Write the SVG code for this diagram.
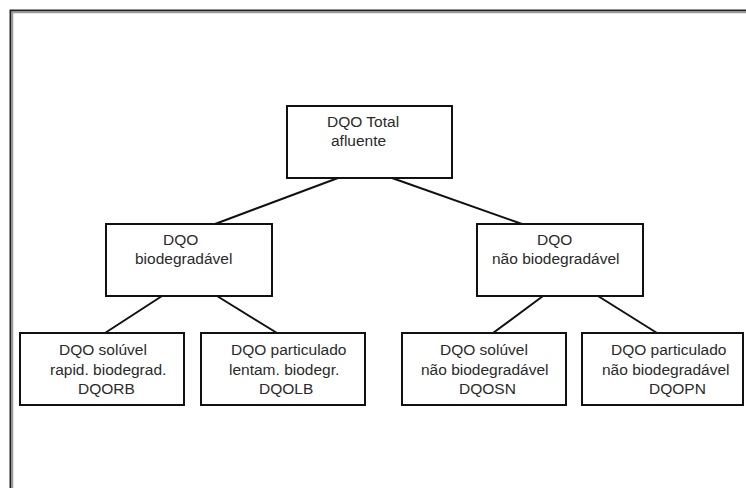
<svg xmlns="http://www.w3.org/2000/svg" width="746" height="488" viewBox="0 0 746 488">
<style>
.box{fill:#fff;stroke:#111;stroke-width:2}
.t{font-family:"Liberation Sans",Arial,sans-serif;font-size:15.5px;fill:#2a2a2a}
.c{stroke:#111;stroke-width:2;fill:none}
</style>
<rect x="0" y="0" width="746" height="488" fill="#fff"/>
<g id="frame">
<path d="M10.5,488 V10.5 H746" fill="none" stroke="#222" stroke-width="2"/>
<path d="M12.5,488 V12.5 H746" fill="none" stroke="#999" stroke-width="1.5"/>
</g>
<g id="connectors">
<line class="c" x1="338" y1="178" x2="215" y2="224"/>
<line class="c" x1="392" y1="178" x2="522" y2="224"/>
<line class="c" x1="162" y1="296" x2="105" y2="333"/>
<line class="c" x1="217" y1="296" x2="277" y2="333"/>
<line class="c" x1="543" y1="296" x2="493" y2="333"/>
<line class="c" x1="598" y1="296" x2="657" y2="333"/>
</g>
<g id="total">
<rect class="box" x="287" y="106" width="165" height="72"/>
<text class="t" x="327" y="127">DQO Total</text>
<text class="t" x="331" y="146">afluente</text>
</g>
<g id="biodegradavel">
<rect class="box" x="106" y="224" width="166" height="72"/>
<text class="t" x="163" y="245">DQO</text>
<text class="t" x="135" y="264">biodegradável</text>
</g>
<g id="nao-biodegradavel">
<rect class="box" x="477" y="224" width="166" height="72"/>
<text class="t" x="537" y="245">DQO</text>
<text class="t" x="492" y="264">não biodegradável</text>
</g>
<g id="dqorb">
<rect class="box" x="20" y="333" width="164" height="72"/>
<text class="t" x="59" y="355">DQO solúvel</text>
<text class="t" x="50" y="375">rapid. biodegrad.</text>
<text class="t" x="78" y="394">DQORB</text>
</g>
<g id="dqolb">
<rect class="box" x="201" y="333" width="164" height="72"/>
<text class="t" x="231" y="355">DQO particulado</text>
<text class="t" x="229" y="375">lentam. biodegr.</text>
<text class="t" x="259" y="394">DQOLB</text>
</g>
<g id="dqosn">
<rect class="box" x="402" y="333" width="164" height="72"/>
<text class="t" x="440" y="355">DQO solúvel</text>
<text class="t" x="421" y="375">não biodegradável</text>
<text class="t" x="459" y="394">DQOSN</text>
</g>
<g id="dqopn">
<rect class="box" x="582" y="333" width="161" height="72"/>
<text class="t" x="611" y="355">DQO particulado</text>
<text class="t" x="602" y="375">não biodegradável</text>
<text class="t" x="649" y="394">DQOPN</text>
</g>
</svg>
